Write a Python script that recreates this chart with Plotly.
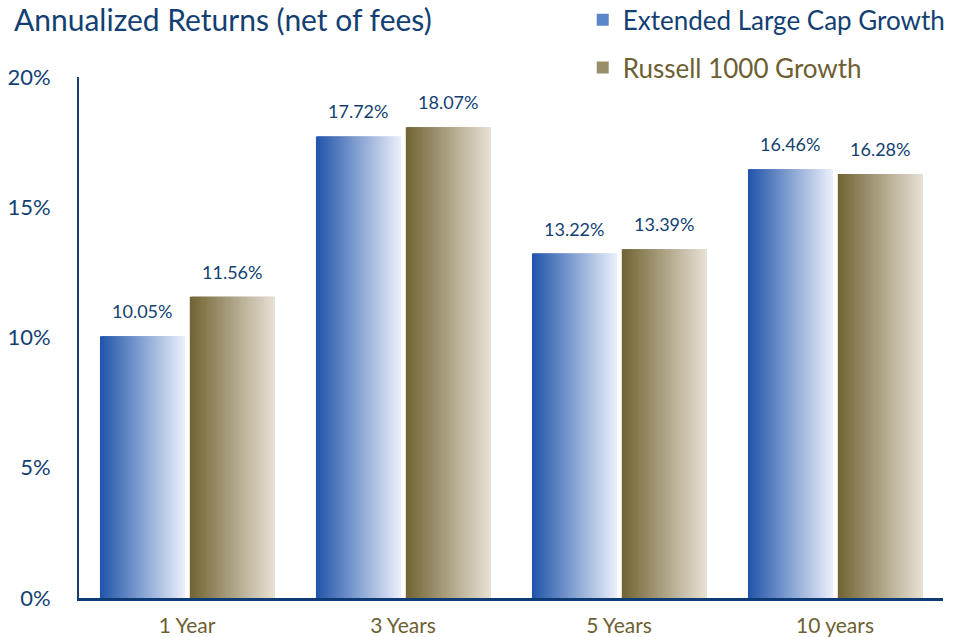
import plotly.graph_objects as go

categories = ["1 Year", "3 Years", "5 Years", "10 years"]
series_names = ["Extended Large Cap Growth", "Russell 1000 Growth"]
elcg_values = [10.05, 17.72, 13.22, 16.46]
r1000g_values = [11.56, 18.07, 13.39, 16.28]
value_labels_elcg = ["10.05%", "17.72%", "13.22%", "16.46%"]
value_labels_r1000g = ["11.56%", "18.07%", "13.39%", "16.28%"]
y_ticks = [0, 5, 10, 15, 20]
y_tick_labels = ["0%", "5%", "10%", "15%", "20%"]

NAVY = "#133f73"
OLIVE = "#6e5f33"
FONT = "Lato, 'Open Sans', sans-serif"


def lerp(c1, c2, t):
    return "rgb({},{},{})".format(*[round(a + (b - a) * t) for a, b in zip(c1, c2)])


series = [
    dict(name=series_names[0], values=elcg_values, labels=value_labels_elcg,
         start=-0.403, width=0.392, c1=(34, 85, 170), c2=(234, 238, 250), legcolor="#5b86c9",
         textcolor=NAVY),
    dict(name=series_names[1], values=r1000g_values, labels=value_labels_r1000g,
         start=0.013, width=0.392, c1=(114, 100, 52), c2=(230, 224, 212), legcolor="#9a8d6a",
         textcolor=OLIVE),
]

N = 64
fig = go.Figure()
xi = list(range(len(categories)))
for si, s in enumerate(series):
    w = s["width"] / N
    for k in range(N):
        t = k / (N - 1)
        wk = w * 2.5 if k < N - 1 else w
        fig.add_trace(go.Bar(
            x=xi, y=s["values"], offset=s["start"] + k * w, width=min(wk, s["width"] - k * w),
            marker=dict(color=lerp(s["c1"], s["c2"], t), line=dict(width=0)),
            showlegend=False, hoverinfo="skip",
        ))
    # legend entry
    fig.add_trace(go.Bar(
        x=[None], y=[None],
        name="<span style='color:%s'>%s</span>" % (s["textcolor"], s["name"]),
        marker=dict(color=s["legcolor"], line=dict(width=0)),
        legendgroup="g%d" % si, showlegend=True,
    ))
    for i, (v, lab) in enumerate(zip(s["values"], s["labels"])):
        fig.add_annotation(
            x=i + s["start"] + s["width"] / 2, y=v, xref="x", yref="y",
            text=lab, showarrow=False, yanchor="middle", yshift=25,
            font=dict(family=FONT, size=18, color=NAVY),
        )

fig.add_annotation(
    x=-0.077, y=1.112, xref="paper", yref="paper", xanchor="left", yanchor="middle",
    text="Annualized Returns (net of fees)", showarrow=False,
    font=dict(family=FONT, size=30, color=NAVY),
)

fig.update_layout(
    width=953, height=637,
    margin=dict(l=79, r=10, t=77, b=39, autoexpand=False),
    paper_bgcolor="white", plot_bgcolor="white",
    barmode="overlay",
    font=dict(family=FONT, color=NAVY),
    legend=dict(
        x=0.583, xanchor="left", y=1.155, yanchor="top",
        font=dict(family=FONT, size=26, color=NAVY),
        tracegroupgap=11, bgcolor="rgba(0,0,0,0)",
    ),
    xaxis=dict(
        tickmode="array", tickvals=xi, ticktext=categories, range=[-0.5, 3.5],
        showline=True, linecolor="#0d3b73", linewidth=3, showgrid=False, zeroline=False,
        ticks="", tickfont=dict(family=FONT, size=21, color=OLIVE), ticklabelstandoff=7,
        automargin=False,
    ),
    yaxis=dict(
        range=[0, 20], tickmode="array", tickvals=y_ticks, ticktext=y_tick_labels,
        showline=True, linecolor="#1a3d6e", linewidth=2, showgrid=False, zeroline=False,
        ticks="", tickfont=dict(family=FONT, size=22, color=NAVY), ticklabelstandoff=22,
        automargin=False,
    ),
)

fig.write_html("out.html")
